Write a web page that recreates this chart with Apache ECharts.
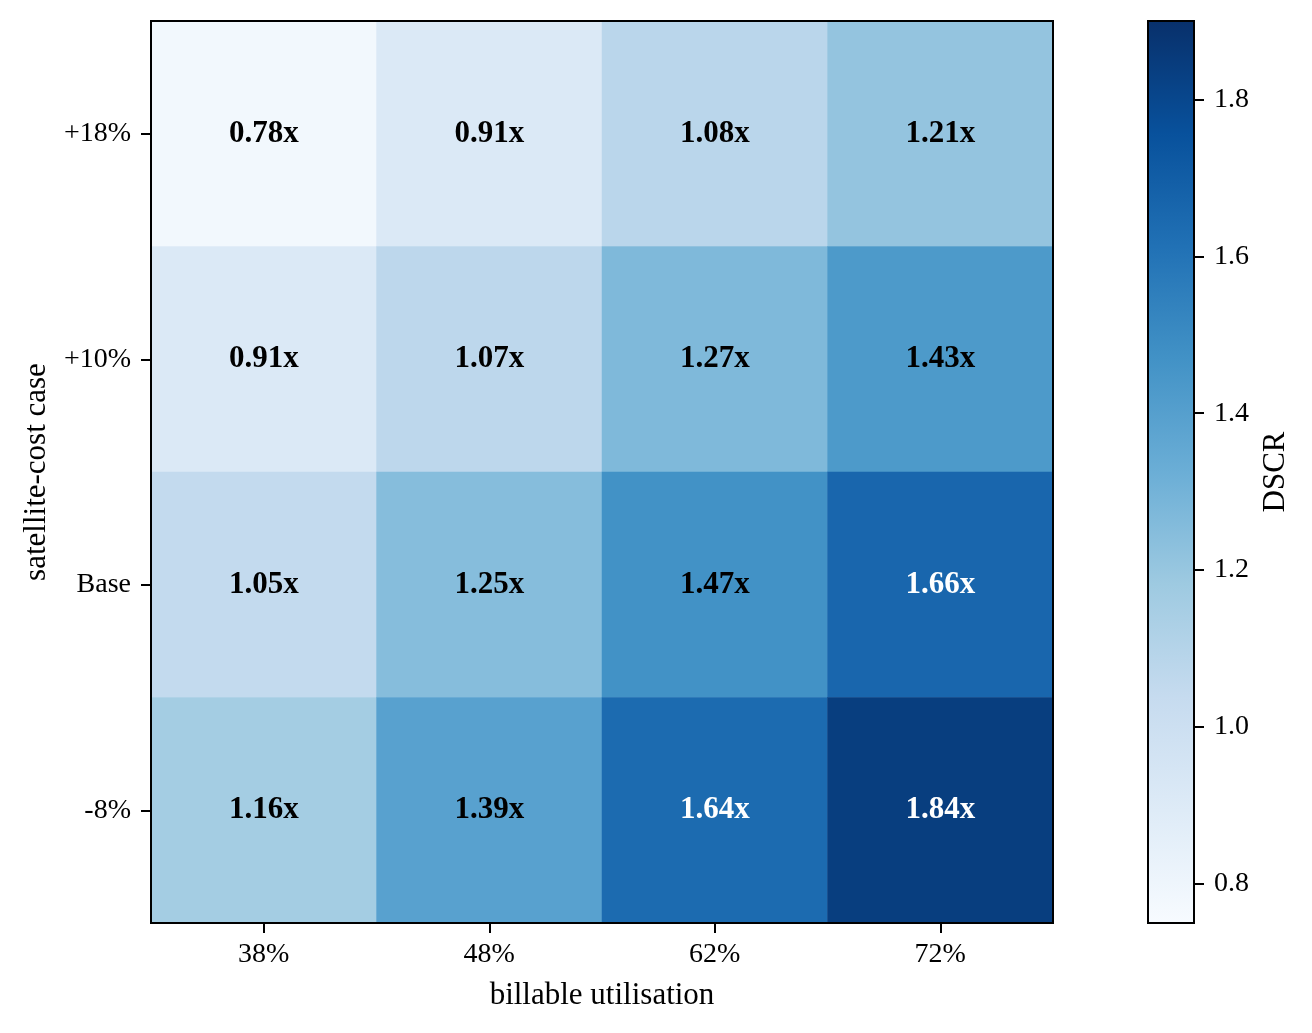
<!DOCTYPE html>
<html>
<head>
    <meta charset="utf-8">
    <title>DSCR heatmap</title>
    <script src="https://cdn.jsdelivr.net/npm/echarts@6/dist/echarts.min.js"></script>
    <style>
        html, body { margin: 0; padding: 0; background: #fff; }
        #main { width: 1312px; height: 1033px; }
    </style>
</head>
<body>
<div id="main"></div>
<script>
    // data
    var utilisation = ['38%', '48%', '62%', '72%'];
    var costCases = ['+18%', '+10%', 'Base', '-8%'];
    var dscr = [
        [0.78, 0.91, 1.08, 1.21],   // +18%
        [0.91, 1.07, 1.27, 1.43],   // +10%
        [1.05, 1.25, 1.47, 1.66],   // Base
        [1.16, 1.39, 1.64, 1.84]    // -8%
    ];
    var colorTicks = [0.8, 1.0, 1.2, 1.4, 1.6, 1.8];
    var vMin = 0.75, vMax = 1.9;

    // matplotlib "Blues"
    var blues = ['#f7fbff', '#deebf7', '#c6dbef', '#9ecae1', '#6baed6',
                 '#4292c6', '#2171b5', '#08519c', '#08306b'];

    var serif = '"Liberation Serif", "Times New Roman", serif';

    var cells = [];
    for (var r = 0; r < costCases.length; r++) {
        for (var c = 0; c < utilisation.length; c++) {
            var v = dscr[r][c];
            cells.push({
                value: [c, r, v],
                label: { color: v > 1.55 ? '#fff' : '#000' }   // white text on the dark cells
            });
        }
    }

    var stops = blues.map(function (col, i) {
        return { offset: i / (blues.length - 1), color: col };
    });

    var tickStyle = { show: true, inside: false, length: 10, lineStyle: { color: '#000', width: 2 } };
    var nameStyle = { fontFamily: serif, fontSize: 31, color: '#000' };

    var chart = echarts.init(document.getElementById('main'));
    chart.setOption({
        animation: false,
        backgroundColor: '#fff',
        textStyle: { fontFamily: serif, color: '#000' },
        grid: [
            { left: 151, right: 259, top: 21, bottom: 110, show: true, z: 10,
              backgroundColor: 'transparent', borderColor: '#000', borderWidth: 2 },
            { left: 1148, width: 46, top: 21, bottom: 110, show: true, z: 10,
              backgroundColor: 'transparent', borderColor: '#000', borderWidth: 2 }
        ],
        xAxis: [
            {
                type: 'category', gridIndex: 0, data: utilisation,
                name: 'billable utilisation', nameLocation: 'middle', nameGap: 57,
                nameTextStyle: nameStyle,
                axisLine: { show: true, lineStyle: { color: '#000', width: 2 } },
                axisTick: Object.assign({ alignWithLabel: true, interval: 0 }, tickStyle),
                axisLabel: { interval: 0, margin: 18, fontFamily: serif, fontSize: 28, color: '#000' },
                splitLine: { show: false }
            },
            {
                type: 'category', gridIndex: 1, data: [''],
                show: false
            }
        ],
        yAxis: [
            {
                type: 'category', gridIndex: 0, data: costCases, inverse: true,
                name: 'satellite-cost case', nameLocation: 'middle', nameGap: 99, nameRotate: 90,
                nameTextStyle: nameStyle,
                axisLine: { show: true, lineStyle: { color: '#000', width: 2 } },
                axisTick: Object.assign({ alignWithLabel: true, interval: 0 }, tickStyle),
                axisLabel: { interval: 0, margin: 20, fontFamily: serif, fontSize: 28, color: '#000' },
                splitLine: { show: false }
            },
            {
                type: 'value', gridIndex: 1, position: 'right', min: vMin, max: vMax,
                name: 'DSCR', nameLocation: 'middle', nameGap: 66, nameRotate: 90,
                nameTextStyle: nameStyle,
                axisLine: { show: true, lineStyle: { color: '#000', width: 2 } },
                axisTick: Object.assign({ customValues: colorTicks }, tickStyle),
                axisLabel: {
                    margin: 20, fontFamily: serif, fontSize: 28, color: '#000',
                    customValues: colorTicks,
                    formatter: function (v) { return Number(v).toFixed(1); }
                },
                splitLine: { show: false }
            }
        ],
        visualMap: {
            show: false, type: 'continuous', seriesIndex: 0, dimension: 2,
            min: vMin, max: vMax, inRange: { color: blues }
        },
        series: [
            {
                type: 'heatmap', xAxisIndex: 0, yAxisIndex: 0, data: cells,
                itemStyle: { borderWidth: 0 },
                label: {
                    show: true, fontFamily: serif, fontSize: 31, fontWeight: 'bold',
                    formatter: function (p) { return p.value[2].toFixed(2) + 'x'; }
                },
                emphasis: { disabled: true }
            },
            {
                // colour bar body
                type: 'custom', xAxisIndex: 1, yAxisIndex: 1, silent: true,
                data: [[0, vMin, vMax]],
                renderItem: function (params, api) {
                    var lo = api.coord([api.value(0), api.value(1)]);
                    var hi = api.coord([api.value(0), api.value(2)]);
                    var w = api.size([1, 0])[0];
                    return {
                        type: 'rect',
                        shape: { x: lo[0] - w / 2, y: hi[1], width: w, height: lo[1] - hi[1] },
                        style: { fill: new echarts.graphic.LinearGradient(0, 1, 0, 0, stops) }
                    };
                }
            }
        ]
    });
</script>
</body>
</html>
